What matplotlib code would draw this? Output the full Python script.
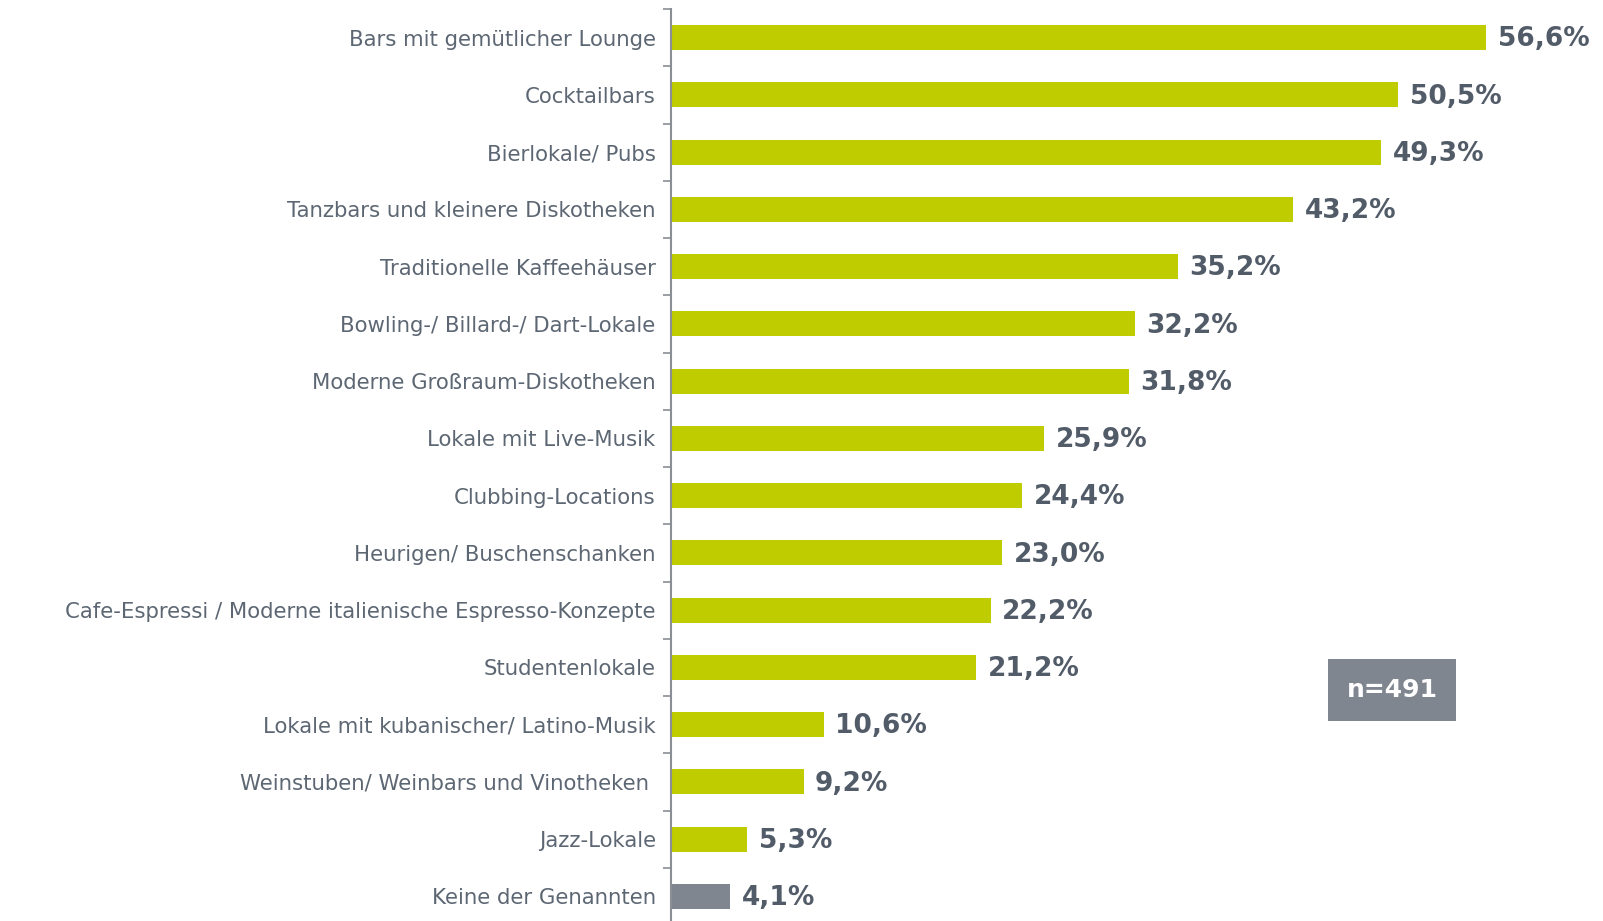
import matplotlib.pyplot as plt
import numpy as np

plt.rcParams['font.family'] = ['DejaVu Sans']

categories = [
    "Bars mit gemütlicher Lounge",
    "Cocktailbars",
    "Bierlokale/ Pubs",
    "Tanzbars und kleinere Diskotheken",
    "Traditionelle Kaffeehäuser",
    "Bowling-/ Billard-/ Dart-Lokale",
    "Moderne Großraum-Diskotheken",
    "Lokale mit Live-Musik",
    "Clubbing-Locations",
    "Heurigen/ Buschenschanken",
    "Cafe-Espressi / Moderne italienische Espresso-Konzepte",
    "Studentenlokale",
    "Lokale mit kubanischer/ Latino-Musik",
    "Weinstuben/ Weinbars und Vinotheken ",
    "Jazz-Lokale",
    "Keine der Genannten",
]
values = [56.6, 50.5, 49.3, 43.2, 35.2, 32.2, 31.8, 25.9, 24.4, 23.0, 22.2, 21.2, 10.6, 9.2, 5.3, 4.1]
sample_note = "n=491"

green = "#bfcd00"
grey = "#7f868f"
label_col = "#5d6773"
value_col = "#525c68"

fig = plt.figure(figsize=(16.03, 9.21), dpi=100)
ax = fig.add_axes([671 / 1603, 0.0, 1 - 671 / 1603, (921 - 9) / 921])

y = np.arange(len(categories))
colors = [green] * (len(categories) - 1) + [grey]
ax.barh(y, values, height=0.44, color=colors)

for yi, v in zip(y, values):
    ax.text(v + 0.8, yi + 0.03, f"{v:.1f}".replace(".", ",") + "%", va="center", ha="left",
            fontsize=19, fontweight="bold", color=value_col)

ax.set_xlim(0, 64.7)
ax.set_ylim(len(categories) - 1 + 0.43, -0.5)

ax.set_yticks(y)
ax.set_yticklabels(categories, fontsize=15.3, color=label_col)
ax.tick_params(axis="y", which="major", length=0, pad=11)
ax.set_yticks(np.arange(-0.5, len(categories) - 0.5, 1), minor=True)
ax.tick_params(axis="y", which="minor", length=6, width=1.2, color="#8a8f96", direction="out")
ax.set_xticks([])

for s in ["top", "right", "bottom"]:
    ax.spines[s].set_visible(False)
ax.spines["left"].set_color("#8a8f96")
ax.spines["left"].set_linewidth(1.5)

fig.text(1392 / 1603, 1 - 690 / 921, sample_note, ha="center", va="center", fontsize=18,
         fontweight="bold", color="white",
         bbox=dict(boxstyle="square,pad=0.75", facecolor=grey, edgecolor="none"))

fig.savefig("out.png", dpi=100)
